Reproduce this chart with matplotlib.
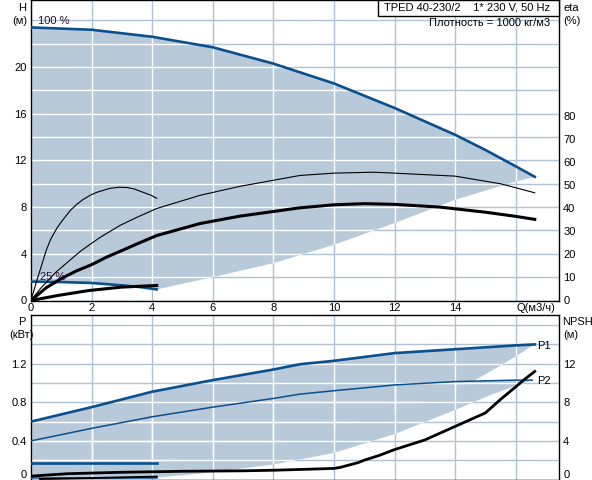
import numpy as np
import matplotlib
matplotlib.use("Agg")
import matplotlib.pyplot as plt
from matplotlib.patches import Rectangle

plt.rcParams['font.family'] = ['Liberation Sans', 'DejaVu Sans']

# ---- head curves (top panel) ----
q_h100 = [0, 2, 4, 6, 8, 10, 12, 14, 15, 16, 16.63]
h_100 = [23.4, 23.2, 22.6, 21.7, 20.3, 18.6, 16.5, 14.2, 12.9, 11.5, 10.6]

q_h25 = [0, 1, 2, 3, 3.6, 4.15]
h_25 = [1.62, 1.58, 1.5, 1.3, 1.15, 0.95]

# lower limit of operating area
q_hlow = [4.15, 6, 8, 10, 12, 14, 16, 16.63]
h_low = [0.95, 2.0, 3.2, 4.77, 6.63, 8.63, 10.2, 10.6]

# efficiency curves (%)
q_eta100 = [0, 0.3, 0.5, 0.8, 1.2, 1.66, 2.28, 2.94, 3.5, 4.15, 5.58, 6.9, 8.88, 10, 11.3, 12, 14, 15.5, 16.63]
eta_100 = [0, 5, 7.8, 12, 16.5, 21.6, 27.3, 32.5, 36, 39.8, 45.5, 49.4, 54.1, 55.1, 55.5, 55.1, 53.8, 50.5, 46.6]

q_etat100 = [0, 0.5, 1, 1.5, 2, 2.5, 3, 3.5, 4.15, 5.58, 6.9, 8.88, 10, 11, 12, 13.5, 15, 16, 16.63]
etat_100 = [0, 5.5, 9.5, 12.8, 15.5, 18.8, 21.6, 24.5, 28.1, 33.3, 36.5, 40.1, 41.4, 41.9, 41.6, 40.4, 38.2, 36.4, 35.1]

q_eta25 = [0, 0.2, 0.4, 0.5, 0.65, 0.85, 1.0, 1.3, 1.5, 1.72, 1.95, 2.17, 2.6, 2.9, 3.16, 3.4, 3.7, 3.95, 4.15]
eta_25 = [0, 9, 17.3, 21.6, 26.5, 31.2, 34, 39, 41.5, 43.7, 45.5, 46.8, 48.5, 49, 48.9, 48.3, 46.8, 45.6, 44.2]

q_etat25 = [0, 0.9, 1.9, 3.0, 4.15]
etat_25 = [0, 2.2, 4.3, 5.8, 6.5]

# ---- power curves (bottom panel) ----
q_p100 = [0, 2, 4, 6, 8, 8.88, 10, 12, 14, 16, 16.63]
p1_100 = [0.60, 0.75, 0.91, 1.03, 1.14, 1.195, 1.23, 1.31, 1.35, 1.39, 1.40]

q_p2100 = [0, 2, 4, 6, 8, 8.88, 10, 12, 14, 16, 16.55]
p2_100 = [0.40, 0.53, 0.65, 0.75, 0.84, 0.885, 0.92, 0.98, 1.015, 1.03, 1.03]

q_p25 = [0, 4.15]
p1_25 = [0.17, 0.17]
p2_25 = [0.02, 0.02]

q_p1low = [4.15, 8, 10, 12, 14, 14.6, 15.5, 16.63]
p1_low = [0.17, 0.38, 0.52, 0.7, 0.92, 1.02, 1.18, 1.40]

q_p2low = [4.15, 5.58, 8, 10, 12, 14, 15.2, 16, 16.55]
p2_low = [0.02, 0.06, 0.155, 0.275, 0.47, 0.72, 0.88, 0.97, 1.03]

# NPSH (m)
q_npsh = [0, 1.2, 3, 5, 7, 8, 9, 10, 10.2, 10.5, 10.8, 11, 11.5, 12, 12.5, 13, 13.5,
          14, 14.5, 15, 15.25, 15.5, 15.75, 16, 16.3, 16.63]
npsh = [0.35, 0.6, 0.75, 0.85, 0.9, 0.96, 1.05, 1.15, 1.25, 1.5, 1.75, 2.0, 2.5, 3.1, 3.6,
        4.1, 4.8, 5.5, 6.2, 6.9, 7.6, 8.3, 8.95, 9.6, 10.4, 11.2]
q_npsh25 = [0.3, 2, 4.15]
npsh_25 = [0.05, 0.15, 0.3]

fill_c = '#b8c9da'
grid_c = '#b0c3d6'
blue = '#0b4f8c'
fs = 8

fig = plt.figure(figsize=(5.92, 4.80), dpi=100)
W, H = 592.0, 480.0

ax = fig.add_axes([31 / W, 1 - 300.5 / H, 528 / W, 300.5 / H])
ax2 = fig.add_axes([31 / W, 0.5 / H, 528 / W, 164.5 / H])

for a in (ax, ax2):
    a.set_xlim(0, 17.43)
    a.set_xticks(np.arange(0, 17, 2))
    a.tick_params(length=0, labelsize=fs)
    a.grid(True, color=grid_c, lw=1.0, zorder=0)
    a.set_axisbelow(True)
    for s in a.spines.values():
        s.set_color('black')
        s.set_linewidth(1.0)

# top panel
ax.set_ylim(0, 25.75)
ax.set_yticks(np.arange(0, 26, 2))
ax.set_yticklabels([str(v) if v % 4 == 0 and v <= 20 else '' for v in range(0, 26, 2)])
ax.set_xticklabels([str(v) for v in range(0, 16, 2)] + [''])
ax.tick_params(axis='y', pad=3)
ax.tick_params(axis='x', pad=2)

poly_q = np.concatenate([q_h100, q_hlow[::-1], q_h25[::-1]])
poly_h = np.concatenate([h_100, h_low[::-1], h_25[::-1]])
top_fill = ax.fill(poly_q, poly_h, color=fill_c, lw=0, zorder=1)[0]
wl = ax.hlines(np.arange(0, 26, 2), 0, 17.43, colors='white', lw=1.0, zorder=1.5)
wl.set_clip_path(top_fill)
wv = ax.vlines(np.arange(0, 17, 2), 0, 25.75, colors='white', lw=1.0, zorder=1.5)
wv.set_clip_path(top_fill)

ax.plot(q_h100, h_100, color=blue, lw=1.9, zorder=3)
ax.plot(q_h25, h_25, color=blue, lw=1.9, zorder=3)

axe = ax.twinx()
axe.set_ylim(0, 130)
axe.set_yticks(np.arange(0, 81, 10))
axe.tick_params(length=0, labelsize=fs, pad=3)
for s in axe.spines.values():
    s.set_visible(False)
axe.plot(q_eta100, eta_100, color='black', lw=0.8)
axe.plot(q_eta25, eta_25, color='black', lw=0.8)
axe.plot(q_etat100, etat_100, color='black', lw=2.2)
axe.plot(q_etat25, etat_25, color='black', lw=2.2)

# bottom panel
ax2.set_ylim(0, 1.705)
ax2.set_yticks(np.arange(0, 1.61, 0.2))
ax2.set_yticklabels(['0', '', '0.4', '', '0.8', '', '1.2', '', ''])
ax2.set_xticklabels([])
ax2.tick_params(axis='y', pad=3)
ax2.get_yticklabels()[0].set_va('bottom')

p1_q = np.concatenate([q_p100, q_p1low[::-1], q_p25[::-1]])
p1_v = np.concatenate([p1_100, p1_low[::-1], p1_25[::-1]])
p2_q = np.concatenate([q_p2100, q_p2low[::-1], q_p25[::-1]])
p2_v = np.concatenate([p2_100, p2_low[::-1], p2_25[::-1]])
f1 = ax2.fill(p1_q, p1_v, color=fill_c, lw=0, zorder=1)[0]
f2 = ax2.fill(p2_q, p2_v, color=fill_c, lw=0, zorder=1)[0]
for f in (f1, f2):
    hl = ax2.hlines(np.arange(0, 1.61, 0.2), 0, 17.43, colors='white', lw=1.0, zorder=1.5)
    hl.set_clip_path(f)
    vl = ax2.vlines(np.arange(0, 17, 2), 0, 1.705, colors='white', lw=1.0, zorder=1.5)
    vl.set_clip_path(f)

ax2.plot(q_p100, p1_100, color=blue, lw=1.9, zorder=3)
ax2.plot(q_p2100, p2_100, color=blue, lw=1.1, zorder=3)
ax2.plot(q_p25, p1_25, color=blue, lw=1.9, zorder=3)
ax2.plot(q_p25, p2_25, color=blue, lw=1.1, zorder=3)

axn = ax2.twinx()
axn.set_ylim(0, 17.05)
axn.set_yticks([0, 4, 8, 12])
axn.tick_params(length=0, labelsize=fs, pad=3)
axn.get_yticklabels()[0].set_va('bottom')
for s in axn.spines.values():
    s.set_visible(False)
axn.plot(q_npsh, npsh, color='black', lw=2.0)
axn.plot(q_npsh25, npsh_25, color='black', lw=1.4)

# texts
def px(x, y, s, **kw):
    fig.text(x / W, 1 - y / H, s, fontsize=fs, **kw)

px(22, 8, 'H', ha='center', va='center')
px(20, 21, '(м)', ha='center', va='center')
px(563, 8, 'eta', ha='left', va='center')
px(563, 21, '(%)', ha='left', va='center')
px(22, 322, 'P', ha='center', va='center')
px(22, 335, '(кВт)', ha='center', va='center')
px(562, 322, 'NPSH', ha='left', va='center')
px(563, 335, '(м)', ha='left', va='center')
px(555, 308, 'Q(м3/ч)', ha='right', va='center')
px(38, 21, '100 %', ha='left', va='center', color='#2a1030')
px(40, 277, '25 %', ha='left', va='center', color='#2a1030')
px(537, 346, 'P1', ha='left', va='center')
px(537, 381, 'P2', ha='left', va='center')
px(550, 23, 'Плотность = 1000 кг/м3', ha='right', va='center')

fig.patches.append(Rectangle((378 / W, 1 - 15.5 / H), 181 / W, 15.5 / H,
                             transform=fig.transFigure, fc='white', ec='black',
                             lw=1.0, zorder=5))
fig.text(550 / W, 1 - 8 / H, 'TPED 40-230/2    1* 230 V, 50 Hz', fontsize=fs,
         ha='right', va='center', zorder=6)

fig.savefig('out.png', dpi=100)
